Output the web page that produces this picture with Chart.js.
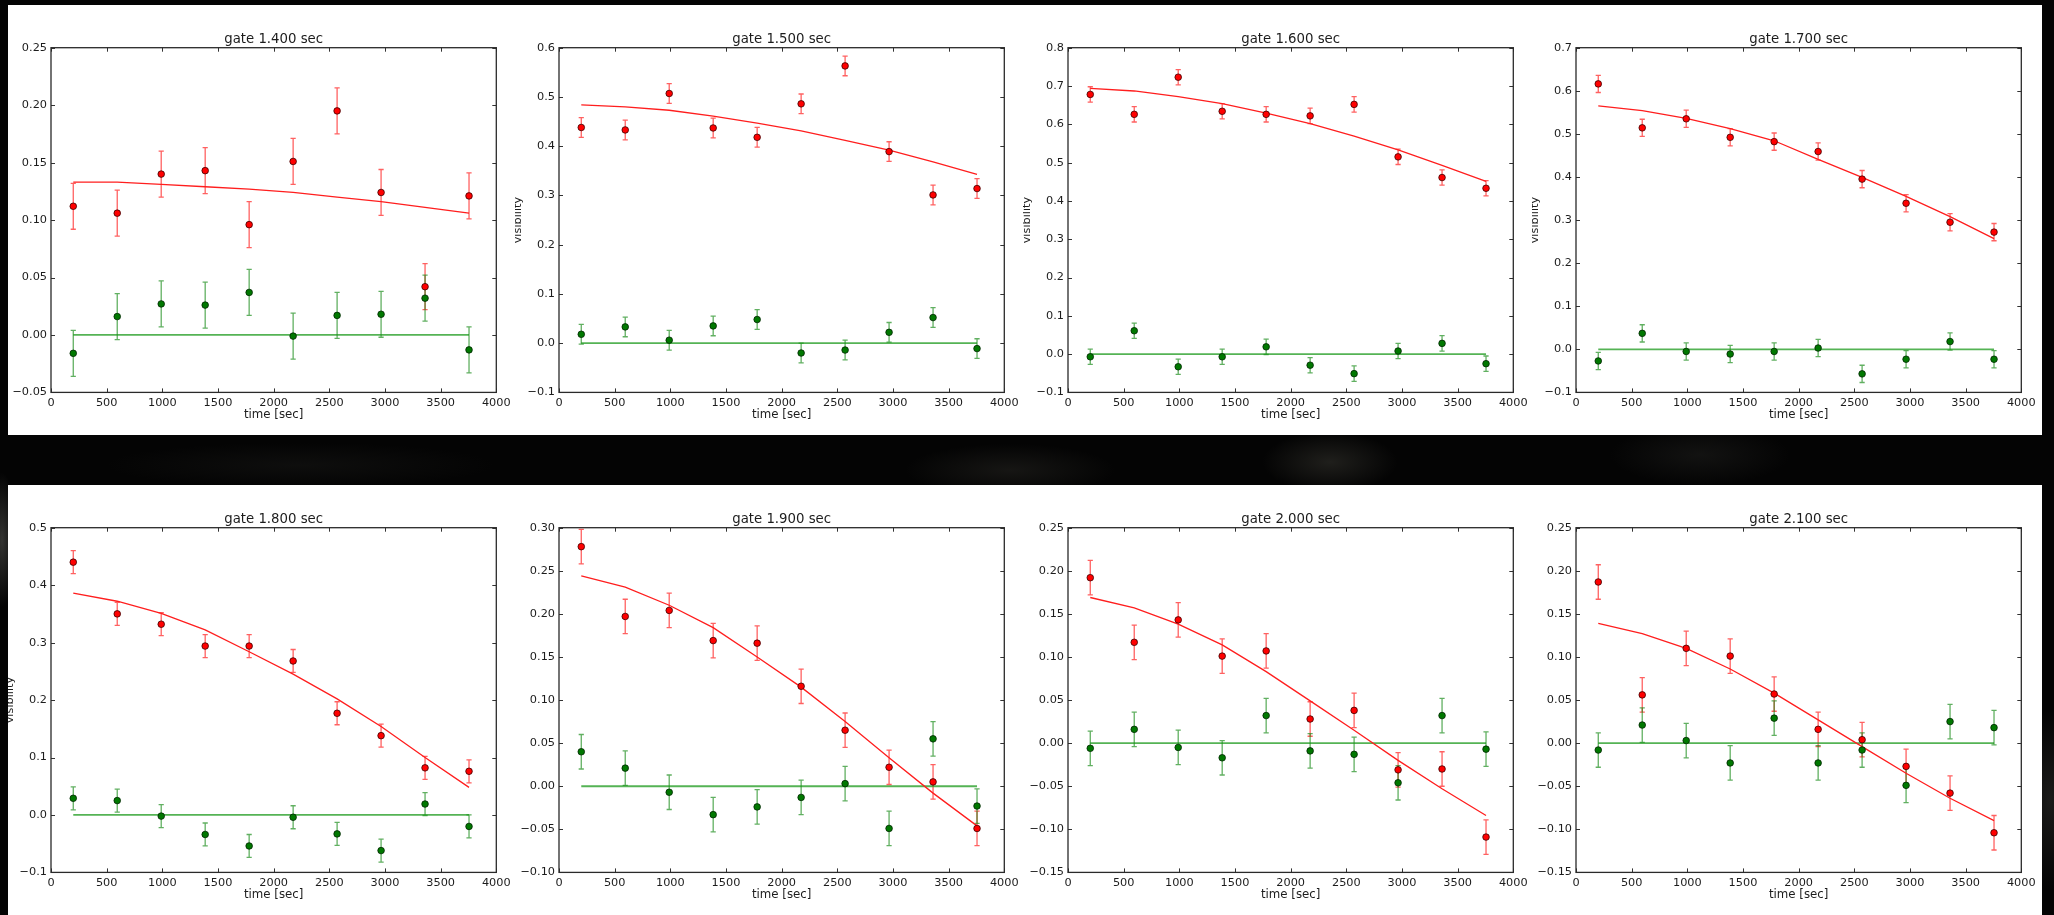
<!DOCTYPE html>
<html>
<head>
<meta charset="utf-8">
<title>visibility vs time, per gate</title>
<script src="https://cdn.jsdelivr.net/npm/chart.js@4/dist/chart.umd.min.js"></script>
<style>
  html, body {
    margin: 0;
    padding: 0;
    width: 2054px;
    height: 915px;
    overflow: hidden;
  }
  body {
    position: relative;
    background:
      radial-gradient(ellipse 90px 40px at 1330px 462px, rgba(110,108,96,0.26), transparent 75%),
      radial-gradient(ellipse 140px 35px at 1010px 470px, rgba(80,78,70,0.24), transparent 75%),
      radial-gradient(ellipse 120px 40px at 1700px 455px, rgba(70,70,66,0.22), transparent 75%),
      radial-gradient(ellipse 40px 120px at 2050px 800px, rgba(70,70,66,0.35), transparent 75%),
      radial-gradient(ellipse 20px 90px at 2px 540px, rgba(110,110,105,0.45), transparent 75%),
      radial-gradient(ellipse 260px 30px at 300px 465px, rgba(60,60,56,0.18), transparent 75%),
      #040404;
  }
  .band {
    position: absolute;
    left: 8px;
    width: 2034px;
    height: 430px;
    background: #fff;
  }
  .panel {
    position: absolute;
    height: 430px;
    background: #fff;
  }
  .panel canvas { display: block; }
</style>
</head>
<body>
<div class="band" style="top:5px"></div>
<div class="band" style="top:485px"></div>
<div id="plots"></div>

<script>
// === Data ===
const times = [200, 595, 990, 1385, 1780, 2175, 2570, 2965, 3360, 3755];
const gateLabels = ["gate 1.400 sec", "gate 1.500 sec", "gate 1.600 sec", "gate 1.700 sec",
                    "gate 1.800 sec", "gate 1.900 sec", "gate 2.000 sec", "gate 2.100 sec"];
const errHalf = 0.02;   // every point has the same +/- error
const zeroModel = [0, 0, 0, 0, 0, 0, 0, 0, 0, 0];

const red1400 = [0.112, 0.106, 0.140, 0.143, 0.096, 0.151, 0.195, 0.124, 0.042, 0.121];
const green1400 = [-0.016, 0.016, 0.027, 0.026, 0.037, -0.001, 0.017, 0.018, 0.032, -0.013];
const fit1400 = [0.133, 0.133, 0.131, 0.129, 0.127, 0.124, 0.120, 0.116, 0.111, 0.106];

const red1500 = [0.438, 0.433, 0.507, 0.437, 0.418, 0.486, 0.563, 0.389, 0.301, 0.314];
const green1500 = [0.018, 0.033, 0.006, 0.035, 0.048, -0.020, -0.014, 0.022, 0.052, -0.011];
const fit1500 = [0.484, 0.480, 0.473, 0.461, 0.447, 0.431, 0.412, 0.392, 0.368, 0.343];

const red1600 = [0.678, 0.626, 0.723, 0.634, 0.626, 0.622, 0.652, 0.515, 0.461, 0.433];
const green1600 = [-0.007, 0.061, -0.033, -0.007, 0.019, -0.029, -0.051, 0.008, 0.028, -0.025];
const fit1600 = [0.694, 0.687, 0.672, 0.654, 0.629, 0.602, 0.569, 0.533, 0.493, 0.451];

const red1700 = [0.616, 0.514, 0.535, 0.492, 0.482, 0.459, 0.395, 0.339, 0.295, 0.272];
const green1700 = [-0.027, 0.037, -0.005, -0.011, -0.005, 0.003, -0.057, -0.023, 0.018, -0.023];
const fit1700 = [0.565, 0.554, 0.536, 0.512, 0.484, 0.441, 0.399, 0.355, 0.308, 0.257];

const red1800 = [0.440, 0.350, 0.332, 0.294, 0.294, 0.268, 0.177, 0.138, 0.082, 0.076];
const green1800 = [0.029, 0.025, -0.002, -0.034, -0.054, -0.004, -0.033, -0.062, 0.019, -0.020];
const fit1800 = [0.386, 0.372, 0.351, 0.322, 0.284, 0.245, 0.202, 0.154, 0.100, 0.048];

const red1900 = [0.278, 0.197, 0.204, 0.169, 0.166, 0.116, 0.065, 0.022, 0.005, -0.049];
const green1900 = [0.040, 0.021, -0.007, -0.033, -0.024, -0.013, 0.003, -0.049, 0.055, -0.023];
const fit1900 = [0.244, 0.231, 0.210, 0.184, 0.150, 0.115, 0.075, 0.033, -0.008, -0.046];

const red2000 = [0.192, 0.117, 0.143, 0.101, 0.107, 0.028, 0.038, -0.031, -0.030, -0.109];
const green2000 = [-0.006, 0.016, -0.005, -0.017, 0.032, -0.009, -0.013, -0.046, 0.032, -0.007];
const fit2000 = [0.169, 0.157, 0.138, 0.114, 0.083, 0.049, 0.015, -0.020, -0.053, -0.084];

const red2100 = [0.187, 0.056, 0.110, 0.101, 0.057, 0.016, 0.004, -0.027, -0.058, -0.104];
const green2100 = [-0.008, 0.021, 0.003, -0.023, 0.029, -0.023, -0.008, -0.049, 0.025, 0.018];
const fit2100 = [0.139, 0.127, 0.110, 0.086, 0.058, 0.027, -0.004, -0.035, -0.064, -0.090];

// y axis per gate
const yMins = [-0.05, -0.1, -0.1, -0.1, -0.1, -0.10, -0.15, -0.15];
const yMaxs = [0.25, 0.6, 0.8, 0.7, 0.5, 0.30, 0.25, 0.25];
const ySteps = [0.05, 0.1, 0.1, 0.1, 0.1, 0.05, 0.05, 0.05];
const yDecimals = [2, 1, 1, 1, 1, 2, 2, 2];
const xTicks = [0, 500, 1000, 1500, 2000, 2500, 3000, 3500, 4000];

const redSets = [red1400, red1500, red1600, red1700, red1800, red1900, red2000, red2100];
const greenSets = [green1400, green1500, green1600, green1700, green1800, green1900, green2000, green2100];
const fitSets = [fit1400, fit1500, fit1600, fit1700, fit1800, fit1900, fit2000, fit2100];

// === Page layout ===
const rowTops = [5, 485];
const panelLefts = [8, 515, 1023, 1532];
const plotLefts = [51, 559, 1068, 1576];
const pageRight = 2042;
const panelH = 430;
const plotTop = 42.7;
const plotW = 445.3;
const plotH = 344.7;
// the y label of the first column and of the lower row sits under the neighbouring figure
const showYLabel = [false, true, true, true, true, false, false, false];

const FONT = "'DejaVu Sans', sans-serif";
const INK = "#1c1c1c";

function toPoints(ys) {
  return ys.map((y, i) => ({ x: times[i], y: y }));
}

function fmtTick(v, dec) {
  if (Math.abs(v) < 1e-9) v = 0;
  return v.toFixed(dec).replace("-", "\u2212");
}

// === Plugin: error bars, frame with inward ticks, title, y label ===
const mplPlugin = {
  id: "mplLook",
  beforeDatasetsDraw(chart) {
    const ctx = chart.ctx;
    const xs = chart.scales.x, ys = chart.scales.y;
    chart.data.datasets.forEach(ds => {
      if (!ds.errColor) return;
      ctx.save();
      ctx.strokeStyle = ds.errColor;
      ctx.lineWidth = 1.3;
      ds.data.forEach(p => {
        const px = xs.getPixelForValue(p.x);
        const y1 = ys.getPixelForValue(p.y - errHalf);
        const y2 = ys.getPixelForValue(p.y + errHalf);
        ctx.beginPath();
        ctx.moveTo(px, y1); ctx.lineTo(px, y2);
        ctx.moveTo(px - 2.6, y1); ctx.lineTo(px + 2.6, y1);
        ctx.moveTo(px - 2.6, y2); ctx.lineTo(px + 2.6, y2);
        ctx.stroke();
      });
      ctx.restore();
    });
  },
  afterDraw(chart, args, opts) {
    const ctx = chart.ctx;
    const a = chart.chartArea;
    const xs = chart.scales.x, ys = chart.scales.y;
    ctx.save();

    // ticks pointing into the plot on all four sides
    ctx.strokeStyle = "#333";
    ctx.lineWidth = 1;
    ctx.beginPath();
    xs.ticks.forEach(t => {
      const px = Math.round(xs.getPixelForValue(t.value)) + 0.5;
      ctx.moveTo(px, a.bottom); ctx.lineTo(px, a.bottom - 4);
      ctx.moveTo(px, a.top); ctx.lineTo(px, a.top + 4);
    });
    ys.ticks.forEach(t => {
      const py = Math.round(ys.getPixelForValue(t.value)) + 0.5;
      ctx.moveTo(a.left, py); ctx.lineTo(a.left + 4, py);
      ctx.moveTo(a.right, py); ctx.lineTo(a.right - 4, py);
    });
    ctx.stroke();

    // axes frame
    ctx.strokeStyle = "#2a2a2a";
    ctx.lineWidth = 1.3;
    ctx.strokeRect(a.left, a.top, a.right - a.left, a.bottom - a.top);

    // title
    ctx.fillStyle = INK;
    ctx.font = "13.3px " + FONT;
    ctx.textAlign = "center";
    ctx.textBaseline = "alphabetic";
    ctx.fillText(opts.title, (a.left + a.right) / 2, a.top - 5);

    // rotated y label
    if (opts.yLabel) {
      ctx.translate(a.left - 38.5, (a.top + a.bottom) / 2);
      ctx.rotate(-Math.PI / 2);
      ctx.font = "11.3px " + FONT;
      ctx.fillText("visibility", 0, 0);
    }
    ctx.restore();
  }
};

// === Build one gate figure ===
function createGateChart(k) {
  const row = Math.floor(k / 4), col = k % 4;
  const left = panelLefts[col];
  const right = col < 3 ? panelLefts[col + 1] : pageRight;
  const width = right - left;
  const axisW = plotLefts[col] - left;

  const holder = document.createElement("div");
  holder.className = "panel";
  holder.style.left = left + "px";
  holder.style.top = rowTops[row] + "px";
  holder.style.width = width + "px";
  const canvas = document.createElement("canvas");
  canvas.width = width;
  canvas.height = panelH;
  holder.appendChild(canvas);
  document.getElementById("plots").appendChild(holder);

  const dec = yDecimals[k];
  const tickFont = { family: FONT, size: 11.3 };

  return new Chart(canvas.getContext("2d"), {
    type: "line",
    data: {
      datasets: [
        {
          label: "data (red)",
          data: toPoints(redSets[k]),
          showLine: false,
          pointRadius: 3.3,
          pointBackgroundColor: "#ff0000",
          pointBorderColor: "#3a0000",
          pointBorderWidth: 0.8,
          errColor: "rgba(255,0,0,0.62)",
          order: 1
        },
        {
          label: "data (green)",
          data: toPoints(greenSets[k]),
          showLine: false,
          pointRadius: 3.3,
          pointBackgroundColor: "#007800",
          pointBorderColor: "#002500",
          pointBorderWidth: 0.8,
          errColor: "rgba(0,128,0,0.62)",
          order: 2
        },
        {
          label: "model (red)",
          data: toPoints(fitSets[k]),
          borderColor: "#ff1e1e",
          borderWidth: 1.3,
          pointRadius: 0,
          tension: 0,
          fill: false,
          order: 3
        },
        {
          label: "model (green)",
          data: toPoints(zeroModel),
          borderColor: "rgba(20,150,20,0.72)",
          borderWidth: 1.8,
          pointRadius: 0,
          tension: 0,
          fill: false,
          order: 4
        }
      ]
    },
    options: {
      responsive: false,
      animation: false,
      devicePixelRatio: 1,
      events: [],
      layout: {
        padding: { top: plotTop, right: width - axisW - plotW, bottom: 0, left: 0 }
      },
      plugins: {
        legend: { display: false },
        tooltip: { enabled: false },
        mplLook: { title: gateLabels[k], yLabel: showYLabel[k] }
      },
      scales: {
        x: {
          type: "linear",
          min: 0,
          max: 4000,
          afterBuildTicks: s => { s.ticks = xTicks.map(v => ({ value: v })); },
          grid: { display: false, drawTicks: false },
          border: { display: false },
          ticks: {
            autoSkip: false,
            maxRotation: 0,
            padding: 4,
            color: INK,
            font: tickFont,
            callback: v => String(v)
          },
          title: {
            display: true,
            text: "time [sec]",
            color: INK,
            font: { family: FONT, size: 11.8 },
            padding: { top: 0, bottom: 13 }
          },
          afterFit: s => { s.height = panelH - plotTop - plotH; }
        },
        y: {
          type: "linear",
          min: yMins[k],
          max: yMaxs[k],
          grid: { display: false, drawTicks: false },
          border: { display: false },
          ticks: {
            stepSize: ySteps[k],
            padding: 4,
            color: INK,
            font: tickFont,
            callback: v => fmtTick(v, dec)
          },
          afterFit: s => { s.width = axisW; }
        }
      }
    },
    plugins: [mplPlugin]
  });
}

// === Draw all gates ===
gateLabels.forEach((g, k) => createGateChart(k));
</script>
</body>
</html>
